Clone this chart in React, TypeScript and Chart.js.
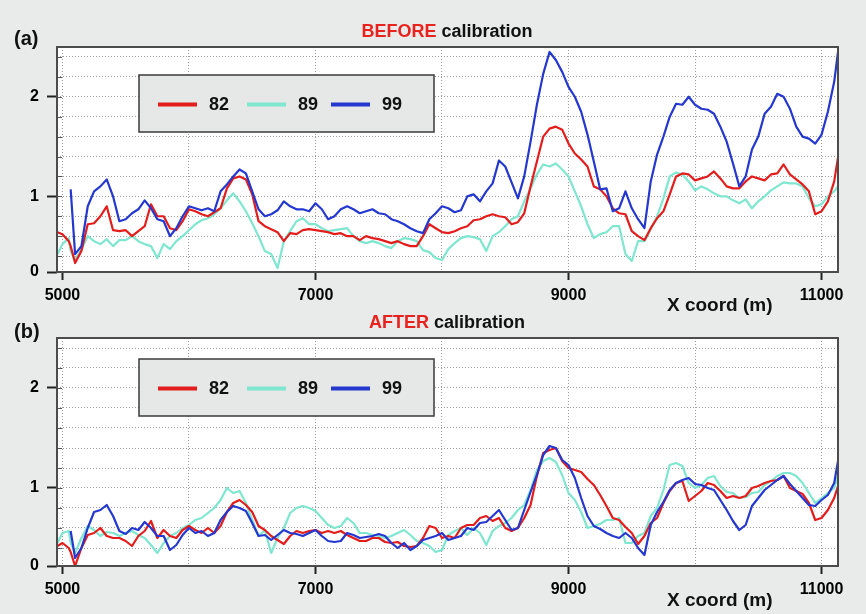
import { useEffect, useRef } from 'react';
import { Chart, registerables } from 'chart.js';

Chart.register(...registerables);

// Profile positions along the line (m)
const xCoords = [
  4960, 5000, 5050, 5065,
  5100, 5150, 5200, 5250, 5300, 5350, 5400, 5450, 5500, 5550,
  5600, 5650, 5700, 5750, 5800, 5850, 5900, 5950, 6000, 6050,
  6100, 6150, 6200, 6250, 6300, 6350, 6400, 6450, 6500, 6550,
  6600, 6650, 6700, 6750, 6800, 6850, 6900, 6950, 7000, 7050,
  7100, 7150, 7200, 7250, 7300, 7350, 7400, 7450, 7500, 7550,
  7600, 7650, 7700, 7750, 7800, 7850, 7900, 7950, 8000, 8050,
  8100, 8150, 8200, 8250, 8300, 8350, 8400, 8450, 8500, 8550,
  8600, 8650, 8700, 8750, 8800, 8850, 8900, 8950, 9000, 9050,
  9100, 9150, 9200, 9250, 9300, 9350, 9400, 9450, 9500, 9550,
  9600, 9650, 9700, 9750, 9800, 9850, 9900, 9950, 10000, 10050,
  10100, 10150, 10200, 10250, 10300, 10350, 10400, 10450, 10500, 10550,
  10600, 10650, 10700, 10750, 10800, 10850, 10900, 10950, 11000, 11050,
  11100, 11130,
];

// (a) BEFORE calibration
const before82 = [
  0.64, 0.62, 0.55, 0.5,
  0.33, 0.45, 0.72, 0.73, 0.8, 0.9, 0.66, 0.65, 0.66, 0.6,
  0.65, 0.7, 0.92, 0.8, 0.8, 0.68, 0.66, 0.75, 0.87, 0.85,
  0.82, 0.8, 0.84, 0.88, 1.08, 1.18, 1.2, 1.17, 1.02, 0.75,
  0.7, 0.67, 0.64, 0.55, 0.63, 0.62, 0.66, 0.67, 0.66, 0.65,
  0.64, 0.62, 0.63, 0.6, 0.6, 0.56, 0.6, 0.58, 0.57, 0.55,
  0.53, 0.55, 0.52, 0.5, 0.5, 0.6, 0.72, 0.68, 0.64, 0.63,
  0.65, 0.68, 0.7, 0.76, 0.77, 0.8, 0.82, 0.8, 0.79, 0.72,
  0.74, 0.83, 1.1, 1.35, 1.6, 1.68, 1.7, 1.67, 1.53, 1.43,
  1.37, 1.3, 1.1, 1.07, 1.0, 0.88, 0.83, 0.82, 0.65, 0.6,
  0.56, 0.68, 0.78, 0.85, 1.02, 1.2, 1.23, 1.22, 1.16, 1.18,
  1.2, 1.25, 1.18, 1.1, 1.08, 1.08, 1.15, 1.2, 1.18, 1.16,
  1.22, 1.23, 1.32, 1.22, 1.17, 1.12, 1.05, 0.82, 0.85, 0.95,
  1.15, 1.39,
];
const before89 = [
  0.42, 0.52, 0.58, 0.45,
  0.36, 0.47, 0.6, 0.55, 0.52, 0.57, 0.5, 0.56, 0.56, 0.6,
  0.55, 0.52, 0.5, 0.38, 0.52, 0.47, 0.55, 0.6, 0.66, 0.72,
  0.76, 0.78, 0.82, 0.88, 0.96, 1.03, 0.95, 0.85, 0.73, 0.6,
  0.45, 0.42, 0.28, 0.55, 0.65, 0.75, 0.78, 0.72, 0.72, 0.68,
  0.65, 0.66, 0.67, 0.68, 0.6, 0.55, 0.53, 0.55, 0.53, 0.5,
  0.48, 0.55, 0.58, 0.57, 0.55, 0.46, 0.44, 0.38, 0.36, 0.47,
  0.53, 0.58, 0.6, 0.59, 0.57, 0.45, 0.6, 0.64, 0.7, 0.77,
  0.8, 0.95, 1.08, 1.22, 1.32, 1.3, 1.33, 1.27, 1.2, 1.05,
  0.9, 0.72, 0.58, 0.62, 0.64, 0.7, 0.7, 0.42, 0.35, 0.55,
  0.55, 0.67, 0.8, 0.98, 1.2, 1.24, 1.22, 1.15, 1.06, 1.1,
  1.07, 1.03, 1.0, 1.0, 0.96, 0.93, 0.97, 0.88, 0.95, 1.0,
  1.06, 1.1, 1.14, 1.13, 1.13, 1.1, 0.98, 0.9, 0.92, 1.0,
  1.05, 1.1,
];
const before99 = [
  null, null, null, 1.07,
  0.42, 0.5, 0.9, 1.05, 1.1, 1.17, 1.0, 0.75, 0.77, 0.83,
  0.87, 0.96, 0.88, 0.77, 0.75, 0.6, 0.68, 0.8, 0.9, 0.88,
  0.86, 0.88, 0.85, 1.05, 1.12, 1.2, 1.27, 1.23, 1.05, 0.87,
  0.8, 0.82, 0.86, 0.95, 0.9, 0.87, 0.87, 0.85, 0.93, 0.87,
  0.77, 0.8, 0.87, 0.9, 0.87, 0.83, 0.85, 0.87, 0.83, 0.82,
  0.77, 0.75, 0.72, 0.68, 0.65, 0.63, 0.77, 0.83, 0.9, 0.88,
  0.84, 0.86, 1.0, 1.02, 0.95, 1.05, 1.13, 1.36, 1.3, 1.14,
  0.98, 1.2, 1.55, 1.92, 2.23, 2.45, 2.37, 2.25, 2.1, 2.0,
  1.85, 1.62, 1.35, 1.07, 1.08, 0.85, 0.88, 1.05, 0.88, 0.77,
  0.68, 1.15, 1.42, 1.6, 1.8, 1.93, 1.92, 2.0, 1.92, 1.88,
  1.87, 1.83, 1.7, 1.55, 1.33, 1.1, 1.2, 1.47, 1.6, 1.83,
  1.9, 2.03, 2.0, 1.88, 1.7, 1.6, 1.58, 1.53, 1.62, 1.85,
  2.15, 2.45,
];

// (b) AFTER calibration
const after82 = [
  0.42, 0.45, 0.4, 0.36,
  0.22, 0.4, 0.53, 0.55, 0.6, 0.52, 0.5, 0.5, 0.47, 0.42,
  0.52, 0.57, 0.67, 0.5, 0.58, 0.52, 0.5, 0.58, 0.62, 0.58,
  0.55, 0.6, 0.55, 0.62, 0.76, 0.85, 0.88, 0.83, 0.76, 0.62,
  0.58, 0.52, 0.48, 0.44, 0.52, 0.57, 0.55, 0.57, 0.58, 0.55,
  0.57, 0.55, 0.57, 0.53, 0.5, 0.47, 0.47, 0.5, 0.5, 0.46,
  0.45, 0.46, 0.42, 0.41, 0.42, 0.5, 0.62, 0.6, 0.5, 0.52,
  0.5, 0.6, 0.63, 0.63, 0.7, 0.72, 0.67, 0.7, 0.6, 0.57,
  0.6, 0.7, 0.83, 1.12, 1.35, 1.38, 1.4, 1.27, 1.2, 1.18,
  1.16, 1.09, 1.03, 0.93, 0.82, 0.7, 0.68, 0.61, 0.55, 0.44,
  0.52, 0.65, 0.7, 0.85, 0.97, 1.05, 1.07, 0.87, 0.92, 0.97,
  1.05, 1.03, 0.97, 0.9, 0.92, 0.9, 0.92, 1.0, 1.02, 1.05,
  1.07, 1.08, 1.12, 1.0, 0.97, 0.94, 0.85, 0.68, 0.7, 0.78,
  0.9, 1.02,
];
const after89 = [
  0.45, 0.55, 0.57, 0.45,
  0.35, 0.5, 0.62, 0.58, 0.52, 0.56, 0.55, 0.52, 0.55, 0.57,
  0.53, 0.5, 0.43, 0.35, 0.45, 0.52, 0.55, 0.6, 0.63, 0.68,
  0.7, 0.75, 0.8, 0.88, 1.0, 0.95, 0.97, 0.85, 0.68, 0.52,
  0.58, 0.35, 0.5, 0.6, 0.75, 0.8, 0.82, 0.8, 0.77, 0.7,
  0.63, 0.6, 0.62, 0.7, 0.65, 0.55, 0.55, 0.53, 0.52, 0.5,
  0.52, 0.55, 0.58, 0.53, 0.47, 0.45, 0.42, 0.36, 0.38, 0.53,
  0.57, 0.6, 0.53, 0.6, 0.55, 0.43, 0.57, 0.62, 0.65, 0.7,
  0.78, 0.83, 0.98, 1.18, 1.27, 1.3, 1.26, 1.13, 0.95, 0.88,
  0.76, 0.6, 0.62, 0.64, 0.68, 0.68, 0.7, 0.45, 0.45, 0.52,
  0.55, 0.72, 0.8, 0.98, 1.23, 1.25, 1.22, 1.05, 1.0, 1.03,
  1.1, 1.12, 1.02, 0.96, 0.95, 0.9, 0.91, 0.95, 0.96, 1.03,
  1.07, 1.12, 1.15, 1.15, 1.12, 1.05, 0.95, 0.85, 0.9, 0.95,
  1.0, 1.13,
];
const after99 = [
  null, null, null, 0.57,
  0.3, 0.4, 0.6, 0.76, 0.78, 0.83, 0.72, 0.57, 0.54, 0.6,
  0.58, 0.66, 0.6, 0.52, 0.52, 0.38, 0.43, 0.53, 0.6, 0.55,
  0.57, 0.52, 0.55, 0.68, 0.76, 0.82, 0.8, 0.77, 0.65, 0.52,
  0.53, 0.48, 0.53, 0.58, 0.55, 0.54, 0.52, 0.55, 0.58, 0.52,
  0.47, 0.46, 0.47, 0.55, 0.53, 0.5, 0.51, 0.52, 0.54, 0.52,
  0.45, 0.4, 0.45, 0.38, 0.42, 0.48, 0.5, 0.52, 0.55, 0.48,
  0.5, 0.52, 0.6, 0.58, 0.65, 0.66, 0.72, 0.78, 0.68, 0.58,
  0.6, 0.78, 0.96, 1.13, 1.33, 1.42, 1.4, 1.28, 1.23, 1.1,
  0.9, 0.72, 0.62, 0.59, 0.55, 0.52, 0.5, 0.55, 0.5, 0.4,
  0.33, 0.63, 0.76, 0.86, 0.98, 1.05, 1.08, 1.1, 1.04, 1.03,
  1.0, 0.98, 0.88, 0.78, 0.67, 0.58, 0.63, 0.82, 0.9, 0.98,
  1.03, 1.08, 1.12, 1.04, 0.97, 0.9, 0.83, 0.82, 0.88, 0.93,
  1.05, 1.27,
];

const seriesLabels = ['82', '89', '99'];
const seriesColors = ['#e31d1c', '#7fe6cf', '#2437cf'];
// lower value is drawn on top
const seriesOrder = [2, 3, 1];

const xGridValues = [5000, 6000, 7000, 8000, 9000, 10000, 11000];
const xTickLabels: Record<number, string> = { 5000: '5000', 7000: '7000', 9000: '9000', 11000: '11000' };
const yGridValues = [0.4, 0.6, 0.8, 1.0, 1.2, 1.4, 1.6, 1.8, 2.0, 2.2, 2.4];
const yTickLabels: Record<string, string> = { '1': '1', '2': '2' };
const yBaseLabel = '0';

const FONT = '"Liberation Sans", Arial, Helvetica, sans-serif';
const PAGE_BG = '#e8ebe9';
const GRID = 'rgba(140,140,140,0.85)';
const TRANSPARENT = 'rgba(0,0,0,0)';

// white plotting area under the grid
const plotBackgroundPlugin = {
  id: 'plotBackground',
  beforeDraw(chart: any) {
    const { ctx, chartArea: a } = chart;
    ctx.save();
    ctx.fillStyle = '#ffffff';
    ctx.fillRect(a.left, a.top, a.right - a.left, a.bottom - a.top);
    ctx.restore();
  },
};

const framePlugin = {
  id: 'panelFrame',
  afterDatasetsDraw(chart: any) {
    const { ctx, chartArea: a, scales } = chart;
    ctx.save();
    ctx.strokeStyle = '#555';
    ctx.lineWidth = 1;
    scales.y.ticks.forEach((t: any) => {
      const y = Math.round(scales.y.getPixelForValue(t.value)) + 0.5;
      ctx.beginPath();
      ctx.moveTo(a.left, y);
      ctx.lineTo(a.left + 5, y);
      ctx.stroke();
    });
    ctx.lineWidth = 2;
    ctx.strokeStyle = '#4c4c4c';
    ctx.strokeRect(a.left, a.top, a.right - a.left, a.bottom - a.top);
    ctx.restore();
  },
};

const boxLegendPlugin = {
  id: 'boxLegend',
  afterDraw(chart: any, _args: any, opts: any) {
    const { ctx } = chart;
    const { x, y, w, h, lineStarts, lineLen, textGap } = opts;
    ctx.save();
    ctx.fillStyle = '#e5e8e7';
    ctx.fillRect(x, y, w, h);
    ctx.strokeStyle = '#3a3a3a';
    ctx.lineWidth = 1.5;
    ctx.strokeRect(x, y, w, h);
    const cy = y + h / 2 + 1;
    chart.data.datasets.forEach((ds: any, i: number) => {
      const lx = x + lineStarts[i];
      ctx.strokeStyle = ds.borderColor;
      ctx.lineWidth = 4;
      ctx.beginPath();
      ctx.moveTo(lx, cy);
      ctx.lineTo(lx + lineLen, cy);
      ctx.stroke();
      ctx.fillStyle = '#111';
      ctx.font = `bold 18px ${FONT}`;
      ctx.textBaseline = 'middle';
      ctx.textAlign = 'left';
      ctx.fillText(ds.label, lx + lineLen + textGap, cy + 1);
    });
    ctx.restore();
  },
};

type PanelSpec = {
  top: number;
  height: number;
  padTop: number;
  xAxisHeight: number;
  yMin: number;
  yMax: number;
  legendY: number;
  series: (number | null)[][];
};

function Panel({ spec }: { spec: PanelSpec }) {
  const ref = useRef<HTMLCanvasElement>(null);

  useEffect(() => {
    const canvas = ref.current;
    if (!canvas) return;
    const datasets = spec.series.map((vals, i) => ({
      label: seriesLabels[i],
      data: xCoords.map((x, j) => ({ x, y: vals[j] })),
      borderColor: seriesColors[i],
      backgroundColor: seriesColors[i],
      borderWidth: 2.2,
      pointRadius: 0,
      tension: 0,
      spanGaps: false,
      borderJoinStyle: 'round' as const,
      order: seriesOrder[i],
    }));

    const chart = new Chart(canvas, {
      type: 'line',
      data: { datasets },
      plugins: [plotBackgroundPlugin, framePlugin, boxLegendPlugin],
      options: {
        animation: false,
        responsive: false,
        events: [],
        layout: { padding: { top: spec.padTop, right: 28, left: 0, bottom: 0 } },
        plugins: {
          legend: { display: false },
          tooltip: { enabled: false },
          title: { display: false },
          boxLegend: {
            x: 139,
            y: spec.legendY,
            w: 295,
            h: 57,
            lineStarts: [19, 108, 192],
            lineLen: 39,
            textGap: 12,
          },
        } as any,
        scales: {
          x: {
            type: 'linear',
            min: 4957,
            max: 11130,
            afterFit: (s: any) => { s.height = spec.xAxisHeight; },
            afterBuildTicks: (s: any) => { s.ticks = xGridValues.map((v) => ({ value: v })); },
            border: { display: false, dash: [1, 2] },
            grid: {
              color: GRID,
              lineWidth: 1,
              drawTicks: true,
              tickLength: 8,
              tickWidth: 2,
              tickColor: (c: any) => (xTickLabels[c.tick?.value] ? '#222' : TRANSPARENT),
            },
            ticks: {
              autoSkip: false,
              maxRotation: 0,
              padding: 6,
              color: '#000',
              font: { family: FONT, size: 16, weight: 'bold' },
              callback: (v: any) => xTickLabels[v as number] ?? '',
            },
          },
          y: {
            type: 'linear',
            min: spec.yMin,
            max: spec.yMax,
            afterFit: (s: any) => { s.width = 57; },
            afterBuildTicks: (s: any) => {
              s.ticks = [spec.yMin, ...yGridValues].map((v) => ({ value: v }));
            },
            border: { display: false, dash: [1, 2] },
            grid: {
              color: (c: any) => (c.tick?.value === spec.yMin ? TRANSPARENT : GRID),
              lineWidth: 1,
              drawTicks: true,
              tickLength: 10,
              tickWidth: 2,
              tickColor: (c: any) => {
                const v = c.tick?.value;
                return v === spec.yMin || yTickLabels[String(v)] ? '#222' : TRANSPARENT;
              },
            },
            ticks: {
              autoSkip: false,
              padding: 8,
              color: '#000',
              font: { family: FONT, size: 16, weight: 'bold' },
              callback: (v: any) => {
                if (v === spec.yMin) return yBaseLabel;
                return yTickLabels[String(v)] ?? '';
              },
            },
          },
        },
      },
    });
    return () => chart.destroy();
  }, [spec]);

  return (
    <canvas
      ref={ref}
      width={866}
      height={spec.height}
      style={{ position: 'absolute', left: 0, top: spec.top, width: 866, height: spec.height, display: 'block' }}
    />
  );
}

const panelA: PanelSpec = {
  top: 0, height: 300, padTop: 47, xAxisHeight: 28,
  yMin: 0.24, yMax: 2.5, legendY: 75,
  series: [before82, before89, before99],
};
const panelB: PanelSpec = {
  top: 310, height: 304, padTop: 28, xAxisHeight: 48,
  yMin: 0.22, yMax: 2.5, legendY: 49,
  series: [after82, after89, after99],
};

const textBase: React.CSSProperties = {
  position: 'absolute',
  fontFamily: FONT,
  fontWeight: 'bold',
  color: '#111',
  whiteSpace: 'nowrap',
};

export default function App() {
  return (
    <div style={{ position: 'absolute', left: 0, top: 0, width: 866, height: 614, background: PAGE_BG, overflow: 'hidden' }}>
      <Panel spec={panelA} />
      <Panel spec={panelB} />
      <div style={{ ...textBase, left: 14, top: 28, fontSize: 20, lineHeight: '20px' }}>(a)</div>
      <div style={{ ...textBase, left: 14, top: 321, fontSize: 20, lineHeight: '20px' }}>(b)</div>
      <div style={{ ...textBase, left: 447, top: 22, fontSize: 18, lineHeight: '18px', transform: 'translateX(-50%)' }}>
        <span style={{ color: '#e8231f' }}>BEFORE</span> calibration
      </div>
      <div style={{ ...textBase, left: 447, top: 313, fontSize: 18, lineHeight: '18px', transform: 'translateX(-50%)' }}>
        <span style={{ color: '#e8231f' }}>AFTER</span> calibration
      </div>
      <div style={{ ...textBase, left: 667, top: 295, fontSize: 19, lineHeight: '19px' }}>X coord (m)</div>
      <div style={{ ...textBase, left: 667, top: 590, fontSize: 19, lineHeight: '19px' }}>X coord (m)</div>
    </div>
  );
}
